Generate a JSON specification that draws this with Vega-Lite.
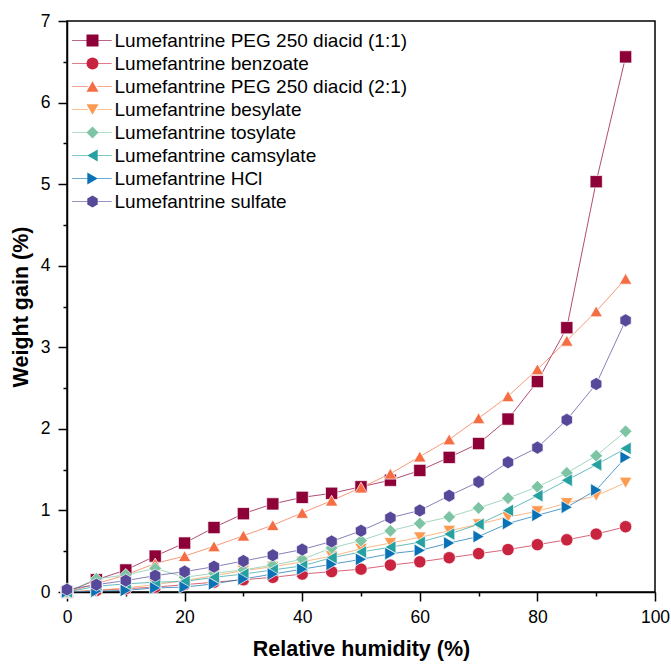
{
  "$schema": "https://vega.github.io/schema/vega-lite/v6.json",
  "width": 588,
  "height": 571,
  "autosize": "none",
  "padding": {"left": 67, "top": 21, "right": 16, "bottom": 72},
  "background": "white",
  "config": {
    "view": {"stroke": "black", "strokeWidth": 1.5},
    "font": "Liberation Sans",
    "axis": {"grid": false, "domainColor": "black", "domainWidth": 1.5, "tickColor": "black", "tickWidth": 1.5, "labelColor": "black", "labelFontSize": 17.5, "titleColor": "black", "titleFontSize": 21.5, "titleFontWeight": "bold", "labelFont": "Liberation Sans", "titleFont": "Liberation Sans"}
  },
  "data": {"values": [
    {"series": "Lumefantrine PEG 250 diacid (1:1)", "rh": 0, "gain": 0},
    {"series": "Lumefantrine PEG 250 diacid (1:1)", "rh": 5, "gain": 0.15},
    {"series": "Lumefantrine PEG 250 diacid (1:1)", "rh": 10, "gain": 0.27},
    {"series": "Lumefantrine PEG 250 diacid (1:1)", "rh": 15, "gain": 0.44},
    {"series": "Lumefantrine PEG 250 diacid (1:1)", "rh": 20, "gain": 0.6},
    {"series": "Lumefantrine PEG 250 diacid (1:1)", "rh": 25, "gain": 0.79},
    {"series": "Lumefantrine PEG 250 diacid (1:1)", "rh": 30, "gain": 0.96},
    {"series": "Lumefantrine PEG 250 diacid (1:1)", "rh": 35, "gain": 1.08},
    {"series": "Lumefantrine PEG 250 diacid (1:1)", "rh": 40, "gain": 1.16},
    {"series": "Lumefantrine PEG 250 diacid (1:1)", "rh": 45, "gain": 1.21},
    {"series": "Lumefantrine PEG 250 diacid (1:1)", "rh": 50, "gain": 1.29},
    {"series": "Lumefantrine PEG 250 diacid (1:1)", "rh": 55, "gain": 1.37},
    {"series": "Lumefantrine PEG 250 diacid (1:1)", "rh": 60, "gain": 1.49},
    {"series": "Lumefantrine PEG 250 diacid (1:1)", "rh": 65, "gain": 1.65},
    {"series": "Lumefantrine PEG 250 diacid (1:1)", "rh": 70, "gain": 1.82},
    {"series": "Lumefantrine PEG 250 diacid (1:1)", "rh": 75, "gain": 2.12},
    {"series": "Lumefantrine PEG 250 diacid (1:1)", "rh": 80, "gain": 2.58},
    {"series": "Lumefantrine PEG 250 diacid (1:1)", "rh": 85, "gain": 3.24},
    {"series": "Lumefantrine PEG 250 diacid (1:1)", "rh": 90, "gain": 5.03},
    {"series": "Lumefantrine PEG 250 diacid (1:1)", "rh": 95, "gain": 6.56},
    {"series": "Lumefantrine benzoate", "rh": 0, "gain": 0},
    {"series": "Lumefantrine benzoate", "rh": 5, "gain": 0.02},
    {"series": "Lumefantrine benzoate", "rh": 10, "gain": 0.04},
    {"series": "Lumefantrine benzoate", "rh": 15, "gain": 0.06},
    {"series": "Lumefantrine benzoate", "rh": 20, "gain": 0.09},
    {"series": "Lumefantrine benzoate", "rh": 25, "gain": 0.12},
    {"series": "Lumefantrine benzoate", "rh": 30, "gain": 0.15},
    {"series": "Lumefantrine benzoate", "rh": 35, "gain": 0.18},
    {"series": "Lumefantrine benzoate", "rh": 40, "gain": 0.22},
    {"series": "Lumefantrine benzoate", "rh": 45, "gain": 0.25},
    {"series": "Lumefantrine benzoate", "rh": 50, "gain": 0.28},
    {"series": "Lumefantrine benzoate", "rh": 55, "gain": 0.33},
    {"series": "Lumefantrine benzoate", "rh": 60, "gain": 0.37},
    {"series": "Lumefantrine benzoate", "rh": 65, "gain": 0.42},
    {"series": "Lumefantrine benzoate", "rh": 70, "gain": 0.47},
    {"series": "Lumefantrine benzoate", "rh": 75, "gain": 0.52},
    {"series": "Lumefantrine benzoate", "rh": 80, "gain": 0.58},
    {"series": "Lumefantrine benzoate", "rh": 85, "gain": 0.64},
    {"series": "Lumefantrine benzoate", "rh": 90, "gain": 0.71},
    {"series": "Lumefantrine benzoate", "rh": 95, "gain": 0.8},
    {"series": "Lumefantrine PEG 250 diacid (2:1)", "rh": 0, "gain": 0},
    {"series": "Lumefantrine PEG 250 diacid (2:1)", "rh": 5, "gain": 0.1},
    {"series": "Lumefantrine PEG 250 diacid (2:1)", "rh": 10, "gain": 0.21},
    {"series": "Lumefantrine PEG 250 diacid (2:1)", "rh": 15, "gain": 0.35},
    {"series": "Lumefantrine PEG 250 diacid (2:1)", "rh": 20, "gain": 0.44},
    {"series": "Lumefantrine PEG 250 diacid (2:1)", "rh": 25, "gain": 0.56},
    {"series": "Lumefantrine PEG 250 diacid (2:1)", "rh": 30, "gain": 0.69},
    {"series": "Lumefantrine PEG 250 diacid (2:1)", "rh": 35, "gain": 0.82},
    {"series": "Lumefantrine PEG 250 diacid (2:1)", "rh": 40, "gain": 0.97},
    {"series": "Lumefantrine PEG 250 diacid (2:1)", "rh": 45, "gain": 1.12},
    {"series": "Lumefantrine PEG 250 diacid (2:1)", "rh": 50, "gain": 1.28},
    {"series": "Lumefantrine PEG 250 diacid (2:1)", "rh": 55, "gain": 1.45},
    {"series": "Lumefantrine PEG 250 diacid (2:1)", "rh": 60, "gain": 1.66},
    {"series": "Lumefantrine PEG 250 diacid (2:1)", "rh": 65, "gain": 1.87},
    {"series": "Lumefantrine PEG 250 diacid (2:1)", "rh": 70, "gain": 2.13},
    {"series": "Lumefantrine PEG 250 diacid (2:1)", "rh": 75, "gain": 2.4},
    {"series": "Lumefantrine PEG 250 diacid (2:1)", "rh": 80, "gain": 2.73},
    {"series": "Lumefantrine PEG 250 diacid (2:1)", "rh": 85, "gain": 3.08},
    {"series": "Lumefantrine PEG 250 diacid (2:1)", "rh": 90, "gain": 3.44},
    {"series": "Lumefantrine PEG 250 diacid (2:1)", "rh": 95, "gain": 3.84},
    {"series": "Lumefantrine besylate", "rh": 0, "gain": 0},
    {"series": "Lumefantrine besylate", "rh": 5, "gain": 0.02},
    {"series": "Lumefantrine besylate", "rh": 10, "gain": 0.05},
    {"series": "Lumefantrine besylate", "rh": 15, "gain": 0.09},
    {"series": "Lumefantrine besylate", "rh": 20, "gain": 0.14},
    {"series": "Lumefantrine besylate", "rh": 25, "gain": 0.2},
    {"series": "Lumefantrine besylate", "rh": 30, "gain": 0.26},
    {"series": "Lumefantrine besylate", "rh": 35, "gain": 0.31},
    {"series": "Lumefantrine besylate", "rh": 40, "gain": 0.37},
    {"series": "Lumefantrine besylate", "rh": 45, "gain": 0.44},
    {"series": "Lumefantrine besylate", "rh": 50, "gain": 0.53},
    {"series": "Lumefantrine besylate", "rh": 55, "gain": 0.6},
    {"series": "Lumefantrine besylate", "rh": 60, "gain": 0.67},
    {"series": "Lumefantrine besylate", "rh": 65, "gain": 0.75},
    {"series": "Lumefantrine besylate", "rh": 70, "gain": 0.83},
    {"series": "Lumefantrine besylate", "rh": 75, "gain": 0.92},
    {"series": "Lumefantrine besylate", "rh": 80, "gain": 0.99},
    {"series": "Lumefantrine besylate", "rh": 85, "gain": 1.09},
    {"series": "Lumefantrine besylate", "rh": 90, "gain": 1.18},
    {"series": "Lumefantrine besylate", "rh": 95, "gain": 1.34},
    {"series": "Lumefantrine tosylate", "rh": 0, "gain": 0},
    {"series": "Lumefantrine tosylate", "rh": 5, "gain": 0.16},
    {"series": "Lumefantrine tosylate", "rh": 10, "gain": 0.21},
    {"series": "Lumefantrine tosylate", "rh": 15, "gain": 0.29},
    {"series": "Lumefantrine tosylate", "rh": 20, "gain": 0.18},
    {"series": "Lumefantrine tosylate", "rh": 25, "gain": 0.23},
    {"series": "Lumefantrine tosylate", "rh": 30, "gain": 0.27},
    {"series": "Lumefantrine tosylate", "rh": 35, "gain": 0.33},
    {"series": "Lumefantrine tosylate", "rh": 40, "gain": 0.4},
    {"series": "Lumefantrine tosylate", "rh": 45, "gain": 0.54},
    {"series": "Lumefantrine tosylate", "rh": 50, "gain": 0.63},
    {"series": "Lumefantrine tosylate", "rh": 55, "gain": 0.75},
    {"series": "Lumefantrine tosylate", "rh": 60, "gain": 0.84},
    {"series": "Lumefantrine tosylate", "rh": 65, "gain": 0.92},
    {"series": "Lumefantrine tosylate", "rh": 70, "gain": 1.03},
    {"series": "Lumefantrine tosylate", "rh": 75, "gain": 1.15},
    {"series": "Lumefantrine tosylate", "rh": 80, "gain": 1.29},
    {"series": "Lumefantrine tosylate", "rh": 85, "gain": 1.46},
    {"series": "Lumefantrine tosylate", "rh": 90, "gain": 1.67},
    {"series": "Lumefantrine tosylate", "rh": 95, "gain": 1.97},
    {"series": "Lumefantrine camsylate", "rh": 0, "gain": 0},
    {"series": "Lumefantrine camsylate", "rh": 5, "gain": 0.07},
    {"series": "Lumefantrine camsylate", "rh": 10, "gain": 0.1},
    {"series": "Lumefantrine camsylate", "rh": 15, "gain": 0.12},
    {"series": "Lumefantrine camsylate", "rh": 20, "gain": 0.13},
    {"series": "Lumefantrine camsylate", "rh": 25, "gain": 0.18},
    {"series": "Lumefantrine camsylate", "rh": 30, "gain": 0.22},
    {"series": "Lumefantrine camsylate", "rh": 35, "gain": 0.27},
    {"series": "Lumefantrine camsylate", "rh": 40, "gain": 0.32},
    {"series": "Lumefantrine camsylate", "rh": 45, "gain": 0.42},
    {"series": "Lumefantrine camsylate", "rh": 50, "gain": 0.49},
    {"series": "Lumefantrine camsylate", "rh": 55, "gain": 0.55},
    {"series": "Lumefantrine camsylate", "rh": 60, "gain": 0.61},
    {"series": "Lumefantrine camsylate", "rh": 65, "gain": 0.71},
    {"series": "Lumefantrine camsylate", "rh": 70, "gain": 0.83},
    {"series": "Lumefantrine camsylate", "rh": 75, "gain": 1.0},
    {"series": "Lumefantrine camsylate", "rh": 80, "gain": 1.18},
    {"series": "Lumefantrine camsylate", "rh": 85, "gain": 1.37},
    {"series": "Lumefantrine camsylate", "rh": 90, "gain": 1.56},
    {"series": "Lumefantrine camsylate", "rh": 95, "gain": 1.76},
    {"series": "Lumefantrine HCl", "rh": 0, "gain": 0},
    {"series": "Lumefantrine HCl", "rh": 5, "gain": 0.01},
    {"series": "Lumefantrine HCl", "rh": 10, "gain": 0.02},
    {"series": "Lumefantrine HCl", "rh": 15, "gain": 0.05},
    {"series": "Lumefantrine HCl", "rh": 20, "gain": 0.06},
    {"series": "Lumefantrine HCl", "rh": 25, "gain": 0.1},
    {"series": "Lumefantrine HCl", "rh": 30, "gain": 0.16},
    {"series": "Lumefantrine HCl", "rh": 35, "gain": 0.22},
    {"series": "Lumefantrine HCl", "rh": 40, "gain": 0.28},
    {"series": "Lumefantrine HCl", "rh": 45, "gain": 0.34},
    {"series": "Lumefantrine HCl", "rh": 50, "gain": 0.4},
    {"series": "Lumefantrine HCl", "rh": 55, "gain": 0.47},
    {"series": "Lumefantrine HCl", "rh": 60, "gain": 0.51},
    {"series": "Lumefantrine HCl", "rh": 65, "gain": 0.6},
    {"series": "Lumefantrine HCl", "rh": 70, "gain": 0.68},
    {"series": "Lumefantrine HCl", "rh": 75, "gain": 0.84},
    {"series": "Lumefantrine HCl", "rh": 80, "gain": 0.94},
    {"series": "Lumefantrine HCl", "rh": 85, "gain": 1.04},
    {"series": "Lumefantrine HCl", "rh": 90, "gain": 1.25},
    {"series": "Lumefantrine HCl", "rh": 95, "gain": 1.65},
    {"series": "Lumefantrine sulfate", "rh": 0, "gain": 0.03},
    {"series": "Lumefantrine sulfate", "rh": 5, "gain": 0.09},
    {"series": "Lumefantrine sulfate", "rh": 10, "gain": 0.14},
    {"series": "Lumefantrine sulfate", "rh": 15, "gain": 0.2},
    {"series": "Lumefantrine sulfate", "rh": 20, "gain": 0.25},
    {"series": "Lumefantrine sulfate", "rh": 25, "gain": 0.31},
    {"series": "Lumefantrine sulfate", "rh": 30, "gain": 0.38},
    {"series": "Lumefantrine sulfate", "rh": 35, "gain": 0.45},
    {"series": "Lumefantrine sulfate", "rh": 40, "gain": 0.52},
    {"series": "Lumefantrine sulfate", "rh": 45, "gain": 0.62},
    {"series": "Lumefantrine sulfate", "rh": 50, "gain": 0.75},
    {"series": "Lumefantrine sulfate", "rh": 55, "gain": 0.91},
    {"series": "Lumefantrine sulfate", "rh": 60, "gain": 1.0},
    {"series": "Lumefantrine sulfate", "rh": 65, "gain": 1.18},
    {"series": "Lumefantrine sulfate", "rh": 70, "gain": 1.35},
    {"series": "Lumefantrine sulfate", "rh": 75, "gain": 1.59},
    {"series": "Lumefantrine sulfate", "rh": 80, "gain": 1.77},
    {"series": "Lumefantrine sulfate", "rh": 85, "gain": 2.11},
    {"series": "Lumefantrine sulfate", "rh": 90, "gain": 2.55},
    {"series": "Lumefantrine sulfate", "rh": 95, "gain": 3.33}
  ]},
  "encoding": {
    "x": {"field": "rh", "type": "quantitative", "scale": {"domain": [0, 100], "nice": false, "zero": false},
      "axis": {"title": "Relative humidity (%)", "values": [0, 10, 20, 30, 40, 50, 60, 70, 80, 90, 100], "labelExpr": "datum.value % 20 === 0 ? datum.value : ''", "labelFlush": false, "tickSize": {"condition": {"test": "datum.value % 20 === 0", "value": 9}, "value": 4}, "labelPadding": 7, "titlePadding": 13}},
    "y": {"field": "gain", "type": "quantitative", "scale": {"domain": [0, 7], "nice": false},
      "axis": {"title": "Weight gain (%)", "values": [0, 0.5, 1, 1.5, 2, 2.5, 3, 3.5, 4, 4.5, 5, 5.5, 6, 6.5, 7], "labelExpr": "datum.value % 1 === 0 ? datum.value : ''", "labelFlush": false, "tickSize": {"condition": {"test": "datum.value % 1 === 0", "value": 9}, "value": 4}, "labelPadding": 8, "titlePadding": 8}}
  },
  "layer": [
    {
      "mark": {"type": "line", "strokeWidth": 1, "opacity": 0.7},
      "encoding": {
        "color": {"field": "series", "type": "nominal", "legend": null,
          "scale": {"domain": ["Lumefantrine PEG 250 diacid (1:1)", "Lumefantrine benzoate", "Lumefantrine PEG 250 diacid (2:1)", "Lumefantrine besylate", "Lumefantrine tosylate", "Lumefantrine camsylate", "Lumefantrine HCl", "Lumefantrine sulfate"],
            "range": ["#8E0038", "#C8243F", "#F46D43", "#FB9A50", "#7CC4A3", "#26A0A0", "#0A72B4", "#574899"]}}
      }
    },
    {
      "mark": {"type": "point", "filled": true, "opacity": 1, "stroke": "white", "strokeWidth": 0.7},
      "encoding": {
        "color": {"field": "series", "type": "nominal", "legend": null,
          "scale": {"domain": ["Lumefantrine PEG 250 diacid (1:1)", "Lumefantrine benzoate", "Lumefantrine PEG 250 diacid (2:1)", "Lumefantrine besylate", "Lumefantrine tosylate", "Lumefantrine camsylate", "Lumefantrine HCl", "Lumefantrine sulfate"],
            "range": ["#8E0038", "#C8243F", "#F46D43", "#FB9A50", "#7CC4A3", "#26A0A0", "#0A72B4", "#574899"]}},
        "shape": {"field": "series", "type": "nominal", "legend": null,
          "scale": {"domain": ["Lumefantrine PEG 250 diacid (1:1)", "Lumefantrine benzoate", "Lumefantrine PEG 250 diacid (2:1)", "Lumefantrine besylate", "Lumefantrine tosylate", "Lumefantrine camsylate", "Lumefantrine HCl", "Lumefantrine sulfate"],
            "range": ["square", "circle", "triangle-up", "triangle-down", "diamond", "triangle-left", "triangle-right", "M0,-1L0.866,-0.5L0.866,0.5L0,1L-0.866,0.5L-0.866,-0.5Z"]}},
        "size": {"field": "series", "type": "nominal", "legend": null,
          "scale": {"domain": ["Lumefantrine PEG 250 diacid (1:1)", "Lumefantrine benzoate", "Lumefantrine PEG 250 diacid (2:1)", "Lumefantrine besylate", "Lumefantrine tosylate", "Lumefantrine camsylate", "Lumefantrine HCl", "Lumefantrine sulfate"],
            "range": [150, 170, 240, 230, 250, 230, 230, 235]}}
      }
    },
    {
      "transform": [{"filter": "false"}],
      "mark": {"type": "point", "filled": true, "size": 144, "opacity": 1},
      "encoding": {
        "color": {"field": "series", "type": "nominal",
          "scale": {"domain": ["Lumefantrine PEG 250 diacid (1:1)", "Lumefantrine benzoate", "Lumefantrine PEG 250 diacid (2:1)", "Lumefantrine besylate", "Lumefantrine tosylate", "Lumefantrine camsylate", "Lumefantrine HCl", "Lumefantrine sulfate"],
            "range": ["#BB6688", "#DE7C8C", "#F8A78E", "#FDC296", "#B0DCC8", "#7DC6C6", "#6CAAD2", "#9A91C2"]},
          "legend": {"orient": "none", "legendX": 16, "legendY": 10, "title": null, "labelFontSize": 19, "labelFont": "Liberation Sans", "labelColor": "black", "labelOpacity": 0, "symbolSize": 144, "labelOffset": 12.5, "rowPadding": 3, "padding": 0, "labelLimit": 500, "symbolStrokeWidth": 0}},
        "shape": {"field": "series", "type": "nominal",
          "scale": {"domain": ["Lumefantrine PEG 250 diacid (1:1)", "Lumefantrine benzoate", "Lumefantrine PEG 250 diacid (2:1)", "Lumefantrine besylate", "Lumefantrine tosylate", "Lumefantrine camsylate", "Lumefantrine HCl", "Lumefantrine sulfate"],
            "range": [
              "M-3.4,-0.08H-0.8V0.08H-3.4ZM0.8,-0.08H3.2V0.08H0.8Z",
              "M-3.4,-0.08H-0.8V0.08H-3.4ZM0.8,-0.08H3.2V0.08H0.8Z",
              "M-3.4,-0.08H-0.8V0.08H-3.4ZM0.8,-0.08H3.2V0.08H0.8Z",
              "M-3.4,-0.08H-0.8V0.08H-3.4ZM0.8,-0.08H3.2V0.08H0.8Z",
              "M-3.4,-0.08H-0.8V0.08H-3.4ZM0.8,-0.08H3.2V0.08H0.8Z",
              "M-3.4,-0.08H-0.8V0.08H-3.4ZM0.8,-0.08H3.2V0.08H0.8Z",
              "M-3.4,-0.08H-0.8V0.08H-3.4ZM0.8,-0.08H3.2V0.08H0.8Z",
              "M-3.4,-0.08H-0.8V0.08H-3.4ZM0.8,-0.08H3.2V0.08H0.8Z"
            ]},
          "legend": {"orient": "none", "legendX": 16, "legendY": 10, "title": null, "labelFontSize": 19, "labelFont": "Liberation Sans", "labelColor": "black", "labelOpacity": 0, "symbolSize": 144, "labelOffset": 12.5, "rowPadding": 3, "padding": 0, "labelLimit": 500, "symbolStrokeWidth": 0}}
      }
    },
    {
      "transform": [{"filter": "false"}],
      "mark": {"type": "point", "filled": true, "size": 144, "opacity": 1},
      "encoding": {
        "color": {"field": "series", "type": "nominal",
          "scale": {"domain": ["Lumefantrine PEG 250 diacid (1:1)", "Lumefantrine benzoate", "Lumefantrine PEG 250 diacid (2:1)", "Lumefantrine besylate", "Lumefantrine tosylate", "Lumefantrine camsylate", "Lumefantrine HCl", "Lumefantrine sulfate"],
            "range": ["#8E0038", "#C8243F", "#F46D43", "#FB9A50", "#7CC4A3", "#26A0A0", "#0A72B4", "#574899"]},
          "legend": {"orient": "none", "legendX": 16, "legendY": 10, "title": null, "labelFontSize": 19, "labelFont": "Liberation Sans", "labelColor": "black", "symbolSize": 144, "labelOffset": 12.5, "rowPadding": 3, "padding": 0, "labelLimit": 500, "symbolStrokeWidth": 0}},
        "shape": {"field": "series", "type": "nominal",
          "scale": {"domain": ["Lumefantrine PEG 250 diacid (1:1)", "Lumefantrine benzoate", "Lumefantrine PEG 250 diacid (2:1)", "Lumefantrine besylate", "Lumefantrine tosylate", "Lumefantrine camsylate", "Lumefantrine HCl", "Lumefantrine sulfate"],
            "range": ["square", "circle", "triangle-up", "triangle-down", "diamond", "triangle-left", "triangle-right", "M0,-1L0.866,-0.5L0.866,0.5L0,1L-0.866,0.5L-0.866,-0.5Z"]},
          "legend": {"orient": "none", "legendX": 16, "legendY": 10, "title": null, "labelFontSize": 19, "labelFont": "Liberation Sans", "labelColor": "black", "symbolSize": 144, "labelOffset": 12.5, "rowPadding": 3, "padding": 0, "labelLimit": 500, "symbolStrokeWidth": 0}}
      }
    }
  ],
  "resolve": {"scale": {"color": "independent", "shape": "independent"}}
}
